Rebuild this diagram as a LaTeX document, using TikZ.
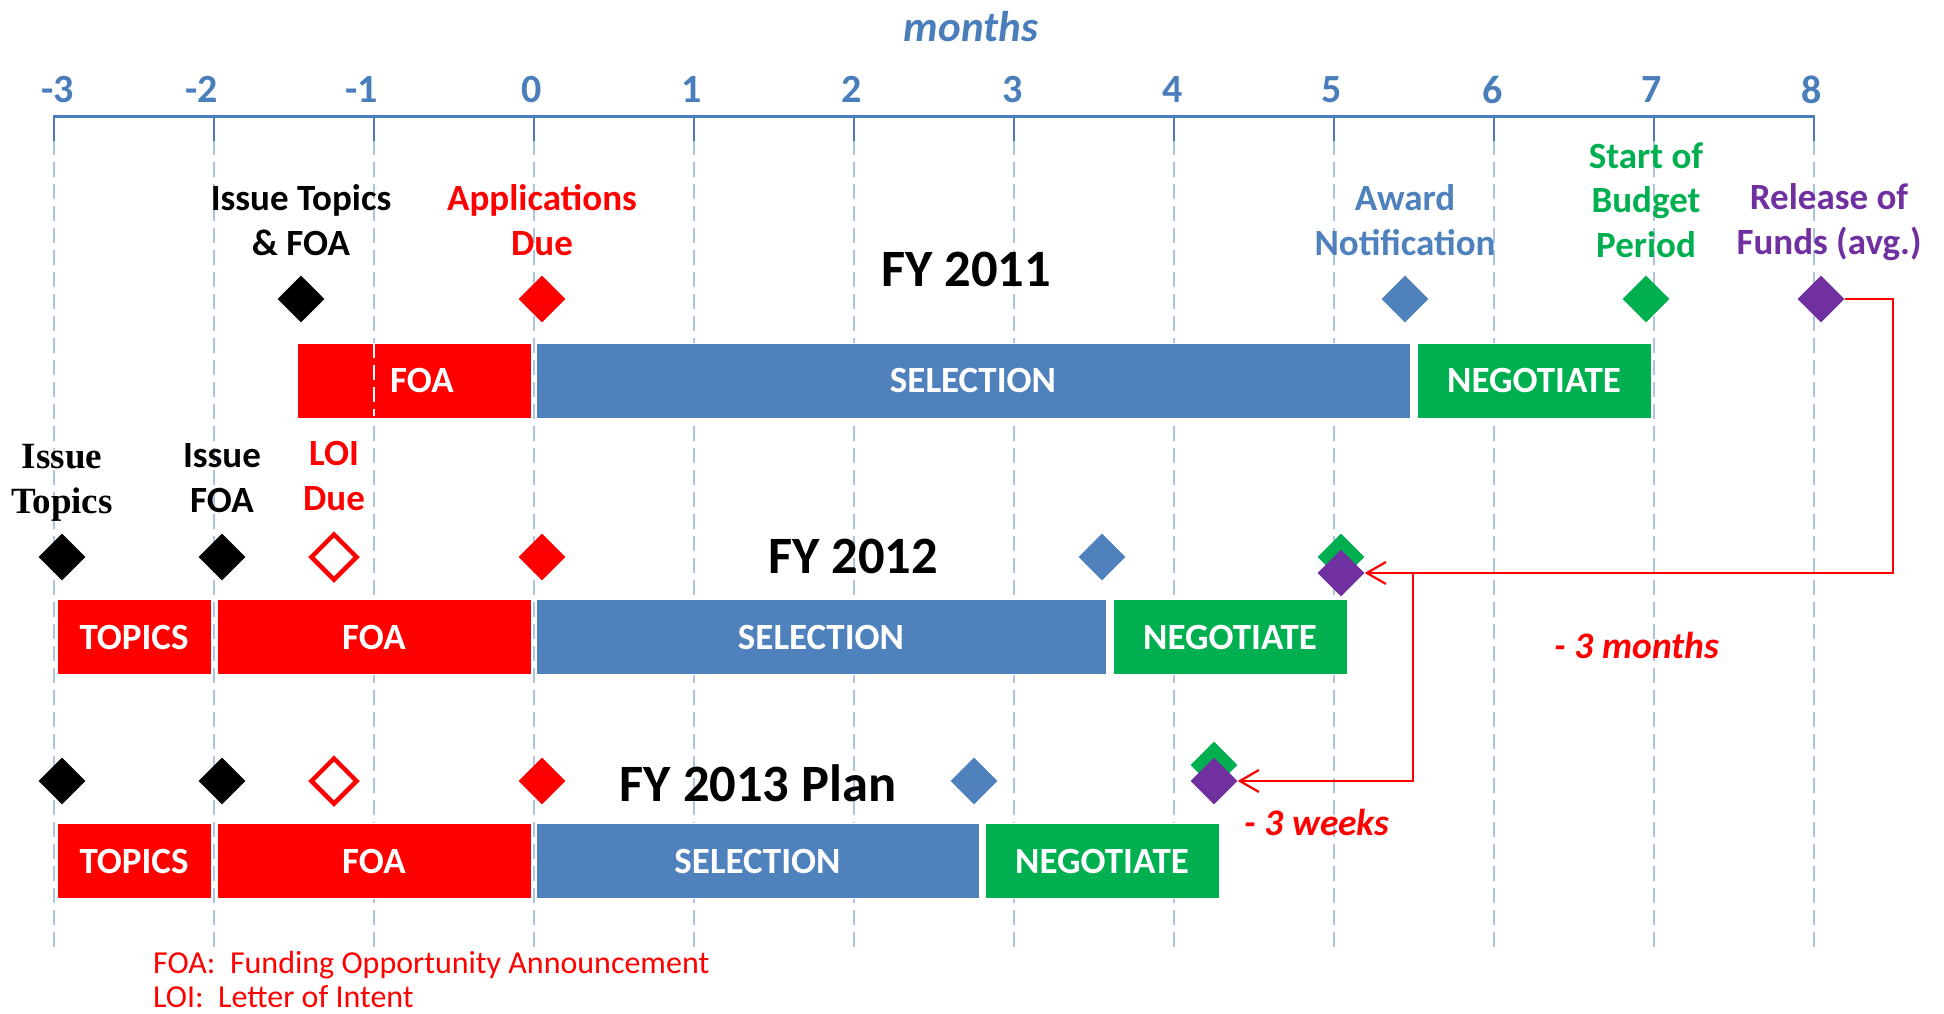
\documentclass[tikz,border=0pt]{standalone}
\usepackage{fontspec}
\setmainfont{Carlito}
\newfontfamily\serifface{Liberation Serif}
\usetikzlibrary{shapes.geometric,arrows.meta}
\definecolor{cRed}{RGB}{255,0,0}
\definecolor{cBlue}{RGB}{79,129,189}
\definecolor{cGreen}{RGB}{0,176,80}
\definecolor{cPurple}{RGB}{112,48,160}
\definecolor{cGrid}{RGB}{172,196,226}
\definecolor{cAxis}{RGB}{74,126,187}
\tikzset{
  gridline/.style={cGrid, line width=2pt, dash pattern=on 15pt off 7pt},
  ms/.style={diamond, aspect=1, minimum width=47pt, minimum height=47pt, inner sep=0pt, fill=#1},
  openms/.style={diamond, aspect=1, minimum width=47pt, minimum height=47pt, inner sep=0pt, draw=cRed, line width=4.5pt, fill=white},
  bar/.style={rectangle, inner sep=0pt, minimum height=75pt, fill=#1, draw=white, line width=1pt,
    text=white, font=\fontsize{37}{44}\selectfont\bfseries},
  lbl/.style={align=center, inner sep=0pt, font=\fontsize{37}{44.5}\selectfont\bfseries, text=#1},
  serlbl/.style={align=center, inner sep=0pt, font=\serifface\fontsize{37}{44.5}\selectfont\bfseries, text=black},
  ticklbl/.style={inner sep=0pt, font=\fontsize{40}{48}\selectfont\bfseries, text=cAxis},
  fytitle/.style={inner sep=0pt, font=\fontsize{52.5}{60}\selectfont\bfseries, text=black},
  shiftnote/.style={inner sep=0pt, text=cRed, font=\fontsize{37.5}{44}\selectfont\bfseries\itshape},
  footnote/.style={inner sep=0pt, anchor=west, text=cRed, font=\fontsize{32}{38}\selectfont},
  conn/.style={cRed, line width=2.2pt, -{Straight Barb[length=19pt,width=22pt,line width=2.2pt]}},
}
\begin{document}
\begin{tikzpicture}[x=1pt,y=-1pt]
\useasboundingbox[fill=white] (0,0) rectangle (1944,1014);

% month grid and axis
\foreach \m in {-3,...,8} {
  \draw[gridline] ({534.4+160*\m},140) -- ({534.4+160*\m},948);
  \draw[cAxis, line width=2pt] ({534.4+160*\m},117) -- ({534.4+160*\m},141);
}
\draw[cAxis, line width=3pt] (53.4,117) -- (1815.4,117);

\node[inner sep=0pt, text=cAxis, font=\fontsize{43}{50}\selectfont\bfseries\itshape] (months) at (971,27) {months};
\node[ticklbl] (tm3) at (58,89.5) {-3};
\node[ticklbl] (tm2) at (202,89.5) {-2};
\node[ticklbl] (tm1) at (362,89.5) {-1};
\node[ticklbl] (t0) at (532,89.5) {0};
\node[ticklbl] (t1) at (692,89.5) {1};
\node[ticklbl] (t2) at (852,89.5) {2};
\node[ticklbl] (t3) at (1013,89.5) {3};
\node[ticklbl] (t4) at (1172.5,89.5) {4};
\node[ticklbl] (t5) at (1332,89.5) {5};
\node[ticklbl] (t6) at (1492.5,89.5) {6};
\node[ticklbl] (t7) at (1651.5,89.5) {7};
\node[ticklbl] (t8) at (1812,89.5) {8};

% ---------- FY 2011 ----------
\node[lbl=black] (l11a) at (301,220) {Issue Topics\\\& FOA};
\node[lbl=cRed] (l11b) at (542,220) {Applications\\Due};
\node[lbl=cBlue] (l11c) at (1405,220) {Award\\Notification};
\node[lbl=cGreen] (l11d) at (1646,200) {Start of\\Budget\\Period};
\node[lbl=cPurple] (l11e) at (1829,222) {Release of\\Funds (avg.)};
\node[fytitle] (fy11) at (966,269) {FY 2011};

\node[ms=black] (i11) at (301,299) {};
\node[ms=cRed] (a11) at (542,299) {};
\node[ms=cBlue] (w11) at (1405,299) {};
\node[ms=cGreen] (b11) at (1646,299) {};
\node[ms=cPurple] (p11) at (1821,299) {};

\node[bar=cRed, minimum width=234pt] (foa11) at (414,380.5) {};
\node[text=white, inner sep=0pt, font=\fontsize{37}{44}\selectfont\bfseries] (foa11t) at (422,380.5) {FOA};
\node[bar=cBlue, minimum width=874pt] (sel11) at (973,380.5) {SELECTION};
\node[bar=cGreen, minimum width=234pt] (neg11) at (1534,380.5) {NEGOTIATE};
\draw[gridline, white] (374.4,343) -- (374.4,416);

% ---------- FY 2012 ----------
\node[serlbl] (l12a) at (62,483) {Issue\\Topics};
\node[lbl=black] (l12b) at (222,478) {Issue\\FOA};
\node[lbl=cRed] (l12c) at (334,476) {LOI\\Due};
\node[fytitle] (fy12) at (853,556) {FY 2012};

\node[ms=black] (i12a) at (62,557) {};
\node[ms=black] (i12b) at (222,557) {};
\node[openms] (o12) at (334,557) {};
\node[ms=cRed] (a12) at (542,557) {};
\node[ms=cBlue] (w12) at (1102,557) {};
\node[ms=cGreen] (b12) at (1341,557) {};
\node[ms=cPurple] (p12) at (1341,573) {};

\node[bar=cRed, minimum width=154pt] (top12) at (134,637) {TOPICS};
\node[bar=cRed, minimum width=314pt] (foa12) at (374,637) {FOA};
\node[bar=cBlue, minimum width=570pt] (sel12) at (821,637) {SELECTION};
\node[bar=cGreen, minimum width=234pt] (neg12) at (1230,637) {NEGOTIATE};
\node[shiftnote] (n12) at (1637,645) {- 3 months};

% ---------- FY 2013 ----------
\node[fytitle] (fy13) at (758,783) {FY 2013 Plan};

\node[ms=black] (i13a) at (62,781) {};
\node[ms=black] (i13b) at (222,781) {};
\node[openms] (o13) at (334,781) {};
\node[ms=cRed] (a13) at (542,781) {};
\node[ms=cBlue] (w13) at (974,781) {};
\node[ms=cGreen] (b13) at (1214,765) {};
\node[ms=cPurple] (p13) at (1214,781) {};

\node[bar=cRed, minimum width=154pt] (top13) at (134,861) {TOPICS};
\node[bar=cRed, minimum width=314pt] (foa13) at (374,861) {FOA};
\node[bar=cBlue, minimum width=443pt] (sel13) at (757.5,861) {SELECTION};
\node[bar=cGreen, minimum width=234pt] (neg13) at (1102,861) {NEGOTIATE};
\node[shiftnote] (n13) at (1317,822) {- 3 weeks};

% shifts of the release of funds
\coordinate (r1) at (1893,299);
\coordinate (j1) at (1413,573);
\draw[conn] (p11.east) -- (r1) |- (p12.east);
\draw[conn] (j1) |- (p13.east);

% abbreviations
\node[footnote] (fn1) at (153,965) {FOA:~~Funding Opportunity Announcement};
\node[footnote] (fn2) at (153,997) {LOI:~~Letter of Intent};
\end{tikzpicture}
\end{document}
